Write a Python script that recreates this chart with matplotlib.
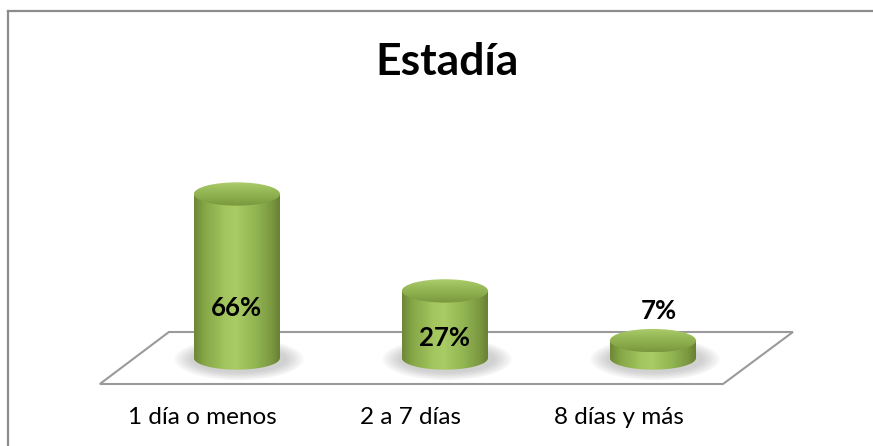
import numpy as np
import matplotlib
matplotlib.use('Agg')
import matplotlib.pyplot as plt
from matplotlib.patches import Ellipse, PathPatch, Polygon
from matplotlib.path import Path
from matplotlib.colors import LinearSegmentedColormap

# datos
categorias = ['1 día o menos', '2 a 7 días', '8 días y más']
porcentajes = [66, 27, 7]
etiquetas = ['66%', '27%', '7%']
titulo = 'Estadía'

FONT = ['Lato', 'DejaVu Sans']

fig = plt.figure(figsize=(8.73, 4.46), dpi=100)
ax = fig.add_axes([0, 0, 1, 1])
ax.set_xlim(-1.139, 3.058)
ax.set_ylim(-35.41, 144.06)
ax.axis('off')

# marco del grafico (solo arriba e izquierda se ven)
fig.add_artist(plt.Line2D([8 / 873, 1], [1 - 11 / 446] * 2, color='#8c8c8c', lw=1.6))
fig.add_artist(plt.Line2D([8 / 873] * 2, [0, 1 - 11 / 446], color='#8c8c8c', lw=1.6))

# piso en perspectiva
piso = Polygon([(-0.659, -10.46), (2.337, -10.46), (2.673, 10.46), (-0.327, 10.46)],
               closed=True, fill=False, edgecolor='#9a9a9a', lw=1.5, zorder=1)
ax.add_patch(piso)

cmap_cuerpo = LinearSegmentedColormap.from_list('cuerpo', [
    (0.0, '#6a8836'), (0.12, '#86a746'), (0.35, '#a2c55e'), (0.48, '#a9cc65'),
    (0.7, '#93b653'), (0.9, '#7a9840'), (1.0, '#647e31')])
cmap_tapa = LinearSegmentedColormap.from_list('tapa', [
    (0.0, '#7a983e'), (0.45, '#8fb04f'), (0.85, '#a3c462'), (1.0, '#b0cf72')])

w = 0.207   # medio ancho del cilindro
ry = 4.7    # radio vertical de las elipses

grad_h = np.linspace(0, 1, 256).reshape(1, -1)
grad_v = np.linspace(1, 0, 256).reshape(-1, 1)
t = np.linspace(np.pi, 2 * np.pi, 60)

for i, v in enumerate(porcentajes):
    # sombra difusa
    for k in range(8):
        ax.add_patch(Ellipse((i + 0.01, -0.5), 2 * w * (1.5 - k * 0.055), 2 * ry * (1.8 - k * 0.09),
                             facecolor='#6e6e6e', edgecolor='none', alpha=0.045, zorder=2))

    # cuerpo
    pts = [(i - w, v), (i - w, 0)]
    pts += list(zip(i + w * np.cos(t), ry * np.sin(t)))
    pts += [(i + w, v), (i - w, v)]
    codes = [Path.MOVETO] + [Path.LINETO] * (len(pts) - 2) + [Path.CLOSEPOLY]
    cuerpo = PathPatch(Path(pts, codes), facecolor='none', edgecolor='none', zorder=3)
    ax.add_patch(cuerpo)
    im = ax.imshow(grad_h, cmap=cmap_cuerpo, extent=(i - w, i + w, -ry, v), aspect='auto',
                   interpolation='bicubic', zorder=3)
    im.set_clip_path(cuerpo)

    # tapa
    tapa = Ellipse((i, v), 2 * w, 2 * ry, facecolor='none', edgecolor='none', zorder=4)
    ax.add_patch(tapa)
    im2 = ax.imshow(grad_v, cmap=cmap_tapa, extent=(i - w, i + w, v - ry, v + ry), aspect='auto',
                    interpolation='bicubic', zorder=4)
    im2.set_clip_path(tapa)

ax.set_xlim(-1.139, 3.058)
ax.set_ylim(-35.41, 144.06)

# etiquetas de datos
pos_etq = [(0.0, 20.1), (1.0, 8.0), (2.03, 18.9)]
for (x, y), txt in zip(pos_etq, etiquetas):
    ax.text(x, y, txt, ha='center', va='center', fontsize=18.5, fontweight='bold',
            family=FONT, color='black', zorder=6)

# categorias
for i, c in enumerate(categorias):
    ax.text(i - 0.165, -24.1, c, ha='center', va='center', fontsize=17.5,
            family=FONT, color='black')

fig.text(447 / 873, 1 - 62 / 446, titulo, ha='center', va='center', fontsize=32,
         fontweight='bold', family=FONT)

fig.savefig('out.png', dpi=100)
